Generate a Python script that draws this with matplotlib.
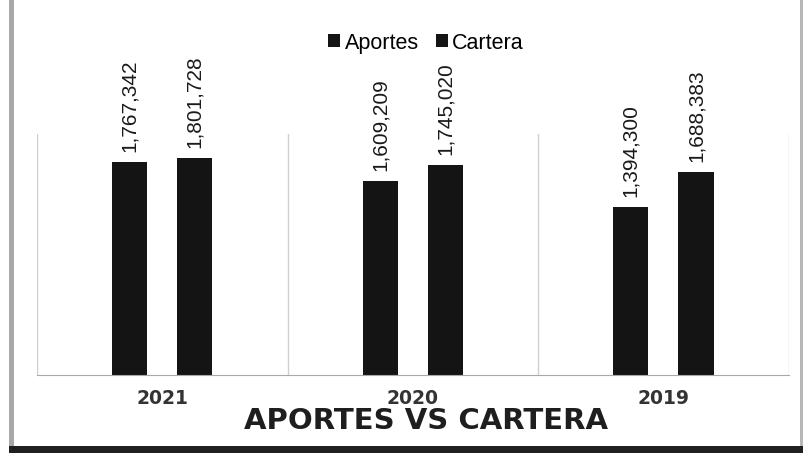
import numpy as np
import matplotlib
matplotlib.use("Agg")
from matplotlib import pyplot as plt
from matplotlib.patches import Rectangle

# data
years = ["2021", "2020", "2019"]
aportes = [1767342, 1609209, 1394300]
cartera = [1801728, 1745020, 1688383]
series_names = ["Aportes", "Cartera"]


def label_bars(ax, bars, values):
    for b, v in zip(bars, values):
        ax.annotate("{:,}".format(v), (b.get_x() + b.get_width() / 2, b.get_height()),
                    xytext=(0, 7), textcoords="offset points", rotation=90,
                    ha="center", va="bottom", fontsize=15, color="#1a1a1a",
                    family="Liberation Sans")


fig = plt.figure(figsize=(8.04, 4.53), dpi=100)
ax = fig.add_axes([0.046, 0.172, 0.935, 0.532])

x = np.arange(len(years))
w = 0.14
off = 0.13
b1 = ax.bar(x - off, aportes, w, color="#141414", label=series_names[0])
b2 = ax.bar(x + off, cartera, w, color="#141414", label=series_names[1])
label_bars(ax, b1, aportes)
label_bars(ax, b2, cartera)

ax.set_xlim(-0.5, len(years) - 0.5)
ax.set_ylim(0, 2000000)
for xb in np.arange(-0.5, len(years), 1.0):
    ax.axvline(xb, color="#d0d0d0", lw=1, zorder=0)

for s in ["top", "left", "right"]:
    ax.spines[s].set_visible(False)
ax.spines["bottom"].set_color("#a8a8a8")
ax.set_yticks([])
ax.set_xticks(x)
ax.set_xticklabels(years, fontsize=13.5, color="#333333", fontweight="semibold",
                   family="DejaVu Sans")
ax.tick_params(axis="x", length=0, pad=10)

fig.text(0.53, 0.071, "APORTES VS CARTERA", ha="center", va="center",
         fontsize=21, fontweight="bold", color="#1e1e1e", family="DejaVu Sans")

fig.legend(loc="center", bbox_to_anchor=(0.53, 0.905), ncol=2, frameon=False,
           handlelength=0.55, handleheight=0.55, handletextpad=0.2, columnspacing=0.8,
           prop={"family": "Liberation Sans", "size": 15.5})

# scanned page frame
fig.add_artist(Rectangle((0.011, 0.0), 0.007, 1.0, transform=fig.transFigure,
                         color="#a8a8a8", lw=0))
fig.add_artist(Rectangle((0.995, 0.0), 0.005, 1.0, transform=fig.transFigure,
                         color="#b8b8b8", lw=0))
fig.add_artist(Rectangle((0.011, 0.0), 0.989, 0.015, transform=fig.transFigure,
                         color="#202020", lw=0))

fig.savefig("out.png", dpi=100)
